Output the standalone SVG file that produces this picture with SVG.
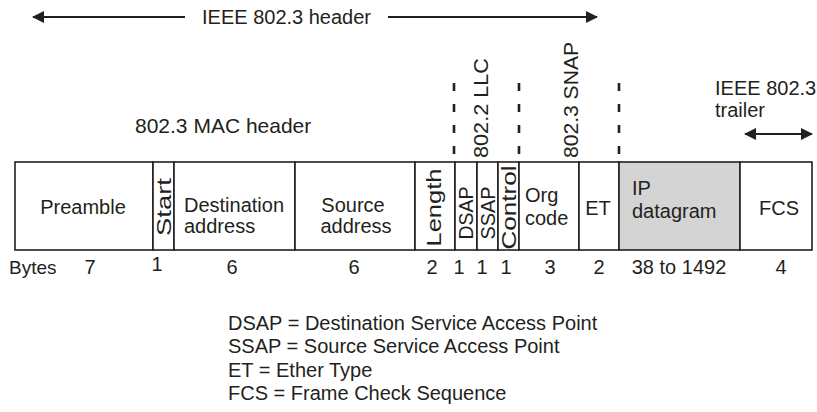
<svg xmlns="http://www.w3.org/2000/svg" width="817" height="412" viewBox="0 0 817 412">
<style>
text{font-family:"Liberation Sans",Arial,sans-serif;fill:#231f20;font-size:20px}
.c{text-anchor:middle}
.v{font-size:21px;text-anchor:middle}
.cell{fill:#fff;stroke:#231f20;stroke-width:1.6}
.ln{stroke:#231f20;stroke-width:2;fill:none}
.dash{stroke:#231f20;stroke-width:2.6;stroke-dasharray:8 13;fill:none}
.lg{font-size:20px}
</style>
<defs>
<marker id="ah" viewBox="0 0 12 12" refX="11" refY="6" markerWidth="12" markerHeight="12" markerUnits="userSpaceOnUse" orient="auto-start-reverse">
<path d="M0,0 L12,6 L0,12 Z" fill="#231f20"/>
</marker>
</defs>
<g id="labels">
<text x="202" y="24">IEEE 802.3 header</text>
<text x="135" y="133" style="font-size:21px">802.3 MAC header</text>
<text class="v" transform="translate(488,108) rotate(-90)" textLength="100" lengthAdjust="spacingAndGlyphs">802.2 LLC</text>
<text class="v" transform="translate(578,100) rotate(-90)" textLength="116" lengthAdjust="spacingAndGlyphs">802.3 SNAP</text>
<text x="715" y="95">IEEE 802.3</text>
<text x="715" y="117">trailer</text>
</g>
<g id="connectors">
<line class="ln" x1="185" y1="17" x2="33" y2="17" marker-end="url(#ah)"/>
<line class="ln" x1="388" y1="17" x2="597" y2="17" marker-end="url(#ah)"/>
<line class="ln" x1="745" y1="134" x2="812" y2="134" marker-start="url(#ah)" marker-end="url(#ah)"/>
<line class="dash" x1="454" y1="83" x2="454" y2="162"/>
<line class="dash" x1="519" y1="83" x2="519" y2="162"/>
<line class="dash" x1="619" y1="83" x2="619" y2="162"/>
</g>
<g id="preamble"><rect class="cell" x="15" y="162" width="138" height="88"/><text class="c" x="83" y="214">Preamble</text></g>
<g id="start"><rect class="cell" x="153" y="162" width="21" height="88"/><text class="v" transform="translate(171,207) rotate(-90)" textLength="58" lengthAdjust="spacingAndGlyphs">Start</text></g>
<g id="destination"><rect class="cell" x="174" y="162" width="121" height="88"/><text x="184" y="212">Destination</text><text x="184" y="233">address</text></g>
<g id="source"><rect class="cell" x="295" y="162" width="120" height="88"/><text class="c" x="353" y="212">Source</text><text class="c" x="356" y="233">address</text></g>
<g id="length"><rect class="cell" x="415" y="162" width="40" height="88"/><text class="v" transform="translate(441,207.5) rotate(-90)" textLength="78" lengthAdjust="spacingAndGlyphs">Length</text></g>
<g id="dsap"><rect class="cell" x="455" y="162" width="22" height="88"/><text class="v" transform="translate(473,213) rotate(-90)" textLength="53" lengthAdjust="spacingAndGlyphs">DSAP</text></g>
<g id="ssap"><rect class="cell" x="477" y="162" width="21" height="88"/><text class="v" transform="translate(495,213) rotate(-90)" textLength="53" lengthAdjust="spacingAndGlyphs">SSAP</text></g>
<g id="control"><rect class="cell" x="498" y="162" width="21" height="88"/><text class="v" transform="translate(516,207.5) rotate(-90)" textLength="84" lengthAdjust="spacingAndGlyphs">Control</text></g>
<g id="org"><rect class="cell" x="519" y="162" width="60" height="88"/><text x="525" y="202">Org</text><text x="525" y="225">code</text></g>
<g id="et"><rect class="cell" x="579" y="162" width="40" height="88"/><text class="c" x="598" y="215">ET</text></g>
<g id="ip"><rect class="cell" x="619" y="162" width="121" height="88" style="fill:#d4d4d4"/><text x="632" y="195">IP</text><text x="632" y="218">datagram</text></g>
<g id="fcs"><rect class="cell" x="740" y="162" width="72" height="88"/><text class="c" x="779" y="215">FCS</text></g>
<g id="bytes">
<text x="9" y="274" style="font-size:19px">Bytes</text>
<text class="c" x="90" y="274">7</text>
<text class="c" x="157" y="271">1</text>
<text class="c" x="232" y="274">6</text>
<text class="c" x="354" y="274">6</text>
<text class="c" x="432" y="274">2</text>
<text class="c" x="459" y="274">1</text>
<text class="c" x="482" y="274">1</text>
<text class="c" x="506" y="274">1</text>
<text class="c" x="550" y="274">3</text>
<text class="c" x="599" y="274">2</text>
<text class="c" x="679" y="274">38 to 1492</text>
<text class="c" x="781" y="274">4</text>
</g>
<g id="legend">
<text class="lg" x="228" y="330">DSAP = Destination Service Access Point</text>
<text class="lg" x="228" y="353">SSAP = Source Service Access Point</text>
<text class="lg" x="228" y="377">ET = Ether Type</text>
<text class="lg" x="228" y="400">FCS = Frame Check Sequence</text>
</g>
</svg>
